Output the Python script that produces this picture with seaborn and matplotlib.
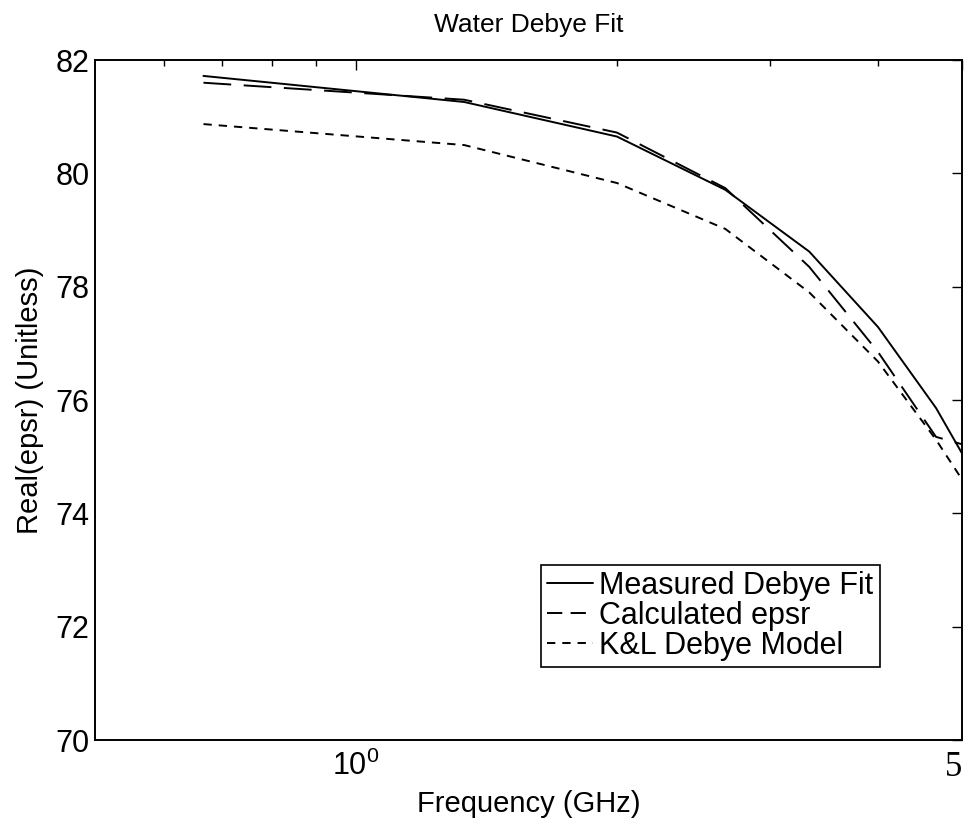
import pandas as pd
import matplotlib
matplotlib.use("Agg")
import matplotlib.pyplot as plt
import seaborn as sns

freq = [0.667, 1.333, 2.0, 2.667, 3.333, 4.0, 4.667, 5.0]
measured = [81.72, 81.26, 80.65, 79.71, 78.62, 77.29, 75.86, 75.06]
calculated = [81.60, 81.30, 80.72, 79.74, 78.35, 76.85, 75.35, 75.22]
kl_model = [80.87, 80.50, 79.83, 79.02, 77.90, 76.68, 75.30, 74.60]

series_names = ["Measured Debye Fit", "Calculated epsr", "K&L Debye Model"]
yticks = [70, 72, 74, 76, 78, 80, 82]

df = pd.concat([
    pd.DataFrame({"freq": freq, "epsr": vals, "series": name})
    for name, vals in zip(series_names, [measured, calculated, kl_model])
])

sns.set_style("white")
plt.rcParams["font.family"] = ["Liberation Sans", "DejaVu Sans"]
plt.rcParams["mathtext.fontset"] = "custom"
plt.rcParams["mathtext.rm"] = "Liberation Sans"
plt.rcParams["lines.scale_dashes"] = False
plt.rcParams["text.color"] = "black"
plt.rcParams["axes.labelcolor"] = "black"

fig = plt.figure(figsize=(9.64, 8.33), dpi=100)
ax = fig.add_axes([0.0985, 0.1116, 0.8994, 0.8163])

sns.lineplot(data=df, x="freq", y="epsr", style="series", color="black",
             dashes={series_names[0]: "", series_names[1]: (20, 9),
                     series_names[2]: (6, 5)},
             linewidth=1.4, ax=ax, sort=False)

ax.set_xscale("log")
ax.set_xlim(0.5, 5)
ax.set_ylim(70, 82)
ax.set_yticks(yticks)
ax.set_xticks([1, 5])
ax.set_xticklabels([r"$\mathregular{10^0}$", "5"])
ax.set_xticks([0.6, 0.7, 0.8, 0.9, 2, 3, 4], minor=True)
ax.xaxis.set_minor_formatter(plt.NullFormatter())

ax.tick_params(axis="both", which="both", direction="in", top=True, right=True,
               labelsize=22, colors="black", width=1.0)
ax.tick_params(axis="both", which="major", length=7)
ax.tick_params(axis="x", which="major", pad=8)
ax.tick_params(axis="y", which="major", pad=4)
ax.tick_params(axis="x", which="minor", length=4)

# the "5" at the right end is in a serif face in the original
five = ax.get_xticklabels()[1]
five.set_fontfamily("Liberation Serif")
five.set_horizontalalignment("right")
five.set_fontsize(25)

for s in ax.spines.values():
    s.set_color("black")
    s.set_linewidth(1.4)

ax.set_title("Water Debye Fit", fontsize=19, pad=20, color="black")
ax.set_xlabel("Frequency (GHz)", fontsize=21, labelpad=4)
ax.set_ylabel("Real(epsr) (Unitless)", fontsize=21, labelpad=8)

leg = ax.legend(loc="lower right", bbox_to_anchor=(0.905, 0.107), fontsize=22,
                frameon=True, fancybox=False, framealpha=1, edgecolor="black",
                handlelength=1.5, handletextpad=0.2, labelspacing=0.0,
                borderpad=0.2, borderaxespad=0, title=None)
leg.get_frame().set_linewidth(1.2)
for t in leg.get_texts():
    t.set_color("black")
leg.get_lines()[1].set_dashes((11, 6))

fig.savefig("out.png", dpi=100)
